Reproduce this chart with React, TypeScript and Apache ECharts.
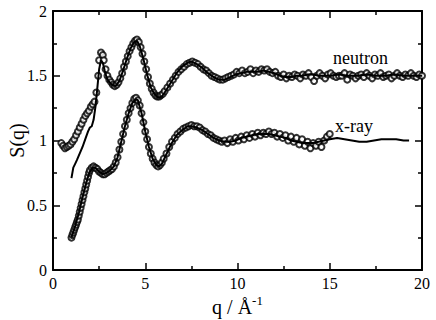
import React, { useEffect, useRef } from "react";
import * as echarts from "echarts";

const neutronExp: number[][] = [
  [0.45, 0.98], [0.55, 0.96], [0.65, 0.94], [0.75, 0.95], [0.85, 0.96], [0.95, 0.97], [1.05, 0.99], [1.15, 1.01],
  [1.25, 1.04], [1.35, 1.07], [1.45, 1.1], [1.55, 1.13], [1.65, 1.16], [1.75, 1.19], [1.85, 1.21], [1.95, 1.23],
  [2.05, 1.26], [2.15, 1.28], [2.25, 1.3], [2.35, 1.37], [2.45, 1.5], [2.5, 1.62], [2.6, 1.68], [2.7, 1.66],
  [2.75, 1.62], [2.85, 1.55], [2.95, 1.5], [3.05, 1.47], [3.15, 1.45], [3.25, 1.43], [3.35, 1.42], [3.45, 1.43],
  [3.55, 1.45], [3.65, 1.48], [3.75, 1.52], [3.85, 1.57], [3.95, 1.61], [4.05, 1.65], [4.15, 1.69], [4.25, 1.72],
  [4.35, 1.75], [4.45, 1.77], [4.55, 1.78], [4.65, 1.76], [4.75, 1.72], [4.85, 1.67], [4.95, 1.61], [5.05, 1.55],
  [5.15, 1.49], [5.25, 1.44], [5.35, 1.4], [5.45, 1.37], [5.55, 1.35], [5.65, 1.34], [5.75, 1.34], [5.85, 1.35],
  [5.95, 1.36], [6.05, 1.38], [6.2, 1.41], [6.35, 1.44], [6.5, 1.47], [6.65, 1.5], [6.8, 1.53], [6.95, 1.55],
  [7.1, 1.57], [7.25, 1.59], [7.4, 1.6], [7.55, 1.61], [7.7, 1.6], [7.85, 1.59], [8.0, 1.57], [8.15, 1.55],
  [8.3, 1.54], [8.45, 1.52], [8.6, 1.5], [8.75, 1.49], [8.9, 1.48], [9.05, 1.47], [9.2, 1.47], [9.35, 1.48],
  [9.5, 1.49], [9.65, 1.5], [9.8, 1.51], [9.95, 1.53], [10.1, 1.52], [10.25, 1.54], [10.4, 1.52], [10.55, 1.53],
  [10.7, 1.55], [10.85, 1.52], [11.0, 1.54], [11.15, 1.53], [11.3, 1.55], [11.45, 1.54], [11.6, 1.55], [11.75, 1.53],
  [11.9, 1.52], [12.05, 1.53], [12.2, 1.5], [12.35, 1.49], [12.5, 1.51], [12.65, 1.48], [12.8, 1.5], [12.95, 1.49],
  [13.1, 1.51], [13.25, 1.5], [13.4, 1.48], [13.55, 1.51], [13.7, 1.5], [13.85, 1.52], [14.0, 1.49], [14.15, 1.46],
  [14.3, 1.5], [14.45, 1.52], [14.6, 1.5], [14.75, 1.48], [14.9, 1.51], [15.05, 1.52], [15.2, 1.5], [15.35, 1.49],
  [15.5, 1.5], [15.65, 1.5], [15.8, 1.52], [15.95, 1.47], [16.1, 1.51], [16.25, 1.5], [16.4, 1.48], [16.55, 1.5],
  [16.7, 1.51], [16.85, 1.49], [17.0, 1.52], [17.15, 1.5], [17.3, 1.48], [17.45, 1.51], [17.6, 1.5], [17.75, 1.52],
  [17.9, 1.49], [18.05, 1.5], [18.2, 1.51], [18.35, 1.48], [18.5, 1.5], [18.65, 1.52], [18.8, 1.5], [18.95, 1.49],
  [19.1, 1.51], [19.25, 1.5], [19.4, 1.52], [19.55, 1.5], [19.7, 1.49], [19.85, 1.51], [20.0, 1.5],
];

const neutronSim: number[][] = [
  [1.0, 0.71], [1.1, 0.79], [1.2, 0.82], [1.3, 0.85], [1.45, 0.9], [1.6, 0.95], [1.75, 1.01], [1.9, 1.07],
  [2.0, 1.1], [2.1, 1.11], [2.2, 1.16], [2.3, 1.26], [2.4, 1.4], [2.5, 1.55], [2.6, 1.62], [2.7, 1.6],
  [2.8, 1.54], [2.9, 1.49], [3.0, 1.46], [3.2, 1.43], [3.4, 1.42], [3.6, 1.46], [3.8, 1.54], [4.0, 1.63],
  [4.2, 1.71], [4.4, 1.76], [4.55, 1.77], [4.7, 1.73], [4.9, 1.63], [5.1, 1.51], [5.3, 1.41], [5.5, 1.36],
  [5.7, 1.33], [5.9, 1.34], [6.1, 1.38], [6.4, 1.45], [6.7, 1.52], [7.0, 1.57], [7.3, 1.6], [7.5, 1.61],
  [7.8, 1.59], [8.1, 1.56], [8.4, 1.52], [8.7, 1.49], [9.0, 1.47], [9.3, 1.47], [9.6, 1.49], [9.9, 1.51],
  [10.2, 1.52], [10.5, 1.53], [10.8, 1.53], [11.1, 1.53], [11.4, 1.54], [11.7, 1.53], [12.0, 1.52], [12.3, 1.5],
  [12.6, 1.49], [12.9, 1.49], [13.2, 1.5], [13.5, 1.5], [13.8, 1.51], [14.1, 1.51], [14.4, 1.5], [14.7, 1.5],
  [15.0, 1.5], [15.5, 1.51], [16.0, 1.5], [16.5, 1.5], [17.0, 1.51], [17.5, 1.5], [18.0, 1.5], [18.5, 1.51],
  [19.0, 1.5], [19.5, 1.5], [20.0, 1.5],
];

const xrayExp: number[][] = [
  [1.0, 0.25], [1.05, 0.27], [1.1, 0.29], [1.15, 0.31], [1.2, 0.33], [1.25, 0.35], [1.3, 0.37], [1.35, 0.39],
  [1.4, 0.42], [1.45, 0.45], [1.5, 0.48], [1.55, 0.51], [1.6, 0.54], [1.65, 0.57], [1.7, 0.6], [1.75, 0.63],
  [1.8, 0.66], [1.85, 0.69], [1.9, 0.72], [1.95, 0.75], [2.0, 0.77], [2.1, 0.79], [2.2, 0.8], [2.3, 0.79],
  [2.4, 0.78], [2.5, 0.76], [2.6, 0.75], [2.7, 0.74], [2.8, 0.74], [2.9, 0.75], [3.0, 0.76], [3.1, 0.77],
  [3.2, 0.78], [3.3, 0.8], [3.4, 0.83], [3.5, 0.87], [3.6, 0.93], [3.7, 0.99], [3.8, 1.05], [3.9, 1.11],
  [4.0, 1.16], [4.1, 1.21], [4.2, 1.25], [4.3, 1.29], [4.4, 1.32], [4.5, 1.33], [4.6, 1.31], [4.7, 1.27],
  [4.8, 1.21], [4.9, 1.14], [5.0, 1.07], [5.1, 1.01], [5.2, 0.95], [5.3, 0.9], [5.4, 0.86], [5.5, 0.83],
  [5.6, 0.81], [5.7, 0.8], [5.8, 0.81], [5.9, 0.83], [6.0, 0.86], [6.15, 0.9], [6.3, 0.95], [6.45, 0.99],
  [6.6, 1.02], [6.75, 1.05], [6.9, 1.07], [7.05, 1.09], [7.2, 1.1], [7.35, 1.11], [7.5, 1.12], [7.65, 1.11],
  [7.8, 1.11], [7.95, 1.1], [8.1, 1.08], [8.25, 1.07], [8.4, 1.05], [8.55, 1.04], [8.7, 1.02], [8.85, 1.01],
  [9.0, 1.0], [9.15, 0.99], [9.3, 1.0], [9.45, 0.98], [9.6, 1.01], [9.75, 0.99], [9.9, 1.02], [10.05, 1.0],
  [10.2, 1.03], [10.35, 1.01], [10.5, 1.04], [10.65, 1.02], [10.8, 1.05], [10.95, 1.03], [11.1, 1.06], [11.25, 1.04],
  [11.4, 1.06], [11.55, 1.05], [11.7, 1.07], [11.85, 1.05], [12.0, 1.06], [12.15, 1.03], [12.3, 1.05], [12.45, 1.02],
  [12.6, 1.04], [12.75, 1.0], [12.9, 1.03], [13.05, 0.99], [13.2, 1.02], [13.35, 0.97], [13.5, 1.01], [13.65, 0.96],
  [13.8, 0.99], [13.95, 0.94], [14.1, 0.98], [14.25, 0.96], [14.4, 0.99], [14.55, 0.95], [14.7, 1.0], [14.85, 1.03],
  [15.0, 1.05],
];

const xraySim: number[][] = [
  [1.0, 0.25], [1.2, 0.34], [1.4, 0.44], [1.6, 0.56], [1.8, 0.67], [1.9, 0.72], [2.0, 0.76], [2.15, 0.79],
  [2.3, 0.79], [2.5, 0.76], [2.7, 0.74], [2.9, 0.75], [3.1, 0.77], [3.3, 0.8], [3.5, 0.87], [3.7, 0.99],
  [3.9, 1.11], [4.1, 1.21], [4.3, 1.29], [4.5, 1.32], [4.6, 1.31], [4.8, 1.21], [5.0, 1.07], [5.2, 0.95],
  [5.4, 0.86], [5.6, 0.81], [5.75, 0.8], [5.9, 0.82], [6.1, 0.88], [6.4, 0.97], [6.7, 1.04], [7.0, 1.08],
  [7.3, 1.11], [7.5, 1.11], [7.8, 1.1], [8.1, 1.08], [8.4, 1.05], [8.7, 1.02], [9.0, 1.0], [9.3, 0.99],
  [9.6, 0.99], [9.9, 1.0], [10.2, 1.02], [10.5, 1.03], [10.8, 1.04], [11.1, 1.05], [11.4, 1.05], [11.7, 1.05],
  [12.0, 1.04], [12.3, 1.03], [12.6, 1.02], [12.9, 1.0], [13.2, 0.99], [13.5, 0.98], [13.8, 0.98], [14.1, 0.98],
  [14.4, 0.99], [14.7, 1.0], [15.0, 1.01], [15.4, 1.02], [15.8, 1.01], [16.2, 1.0], [16.6, 0.99], [17.0, 0.99],
  [17.4, 1.0], [17.8, 1.01], [18.2, 1.01], [18.6, 1.01], [19.0, 1.0], [19.3, 1.0],
];

const seriesLabels = ["neutron", "x-ray"];
const xTicks = { min: 0, max: 20, interval: 5 };
const yTicks = { min: 0, max: 2, interval: 0.5 };

const FONT = "Liberation Serif";

export default function App() {
  const ref = useRef<HTMLDivElement>(null);
  useEffect(() => {
    if (!ref.current) return;
    const chart = echarts.init(ref.current, undefined, { renderer: "svg" });
    const axisLine = { show: true, onZero: false, lineStyle: { color: "#000", width: 2 } };
    const axisTick = { show: true, inside: true, length: 7, lineStyle: { color: "#000", width: 1.5 } };
    const minorTick = { show: true, splitNumber: 2, length: 4, lineStyle: { color: "#000", width: 1.5 } };
    const label = { color: "#000", fontFamily: FONT, fontSize: 16 };
    const scatterStyle = {
      type: "scatter" as const,
      symbol: "emptyCircle",
      symbolSize: 6,
      itemStyle: { color: "#000", borderColor: "#000", borderWidth: 1 },
    };
    const lineStyle = {
      type: "line" as const,
      showSymbol: false,
      symbol: "none",
      lineStyle: { color: "#000", width: 2 },
    };
    chart.setOption({
      animation: false,
      backgroundColor: "#fff",
      grid: { left: 53, right: 14, top: 11, bottom: 50, containLabel: false, outerBoundsMode: "none" },
      xAxis: [
        {
          type: "value",
          ...xTicks,
          position: "bottom",
          axisLine,
          axisTick,
          minorTick,
          splitLine: { show: false },
          axisLabel: { ...label, margin: 5 },
          name: "q / Å{sup|-1}",
          nameLocation: "middle",
          nameGap: 24,
          nameMoveOverlap: false,
          nameTextStyle: {
            color: "#000",
            fontFamily: FONT,
            fontSize: 20,
            rich: { sup: { fontFamily: FONT, fontSize: 13, verticalAlign: "top", padding: [0, 0, 12, 0], color: "#000" } },
          },
        },
        {
          type: "value",
          ...xTicks,
          position: "top",
          axisLine,
          axisTick,
          minorTick,
          splitLine: { show: false },
          axisLabel: { show: false },
        },
      ],
      yAxis: [
        {
          type: "value",
          ...yTicks,
          position: "left",
          axisLine,
          axisTick,
          minorTick,
          splitLine: { show: false },
          axisLabel: { ...label, margin: 6 },
          name: "S(q)",
          nameLocation: "middle",
          nameRotate: 90,
          nameGap: 26,
          nameMoveOverlap: false,
          nameTextStyle: { color: "#000", fontFamily: FONT, fontSize: 20 },
        },
        {
          type: "value",
          ...yTicks,
          position: "right",
          axisLine,
          axisTick,
          minorTick,
          splitLine: { show: false },
          axisLabel: { show: false },
        },
      ],
      graphic: [
        {
          type: "text",
          left: 333,
          top: 49,
          style: { text: seriesLabels[0], font: `18px ${FONT}`, fill: "#000" },
        },
        {
          type: "text",
          left: 335,
          top: 117,
          style: { text: seriesLabels[1], font: `18px ${FONT}`, fill: "#000" },
        },
      ],
      series: [
        { ...scatterStyle, name: "neutron exp", data: neutronExp },
        { ...scatterStyle, name: "x-ray exp", data: xrayExp },
        { ...lineStyle, name: "neutron sim", data: neutronSim },
        { ...lineStyle, name: "x-ray sim", data: xraySim },
      ],
    });
    return () => chart.dispose();
  }, []);
  return <div ref={ref} style={{ width: 436, height: 320, position: "absolute", left: 0, top: 0 }} />;
}
